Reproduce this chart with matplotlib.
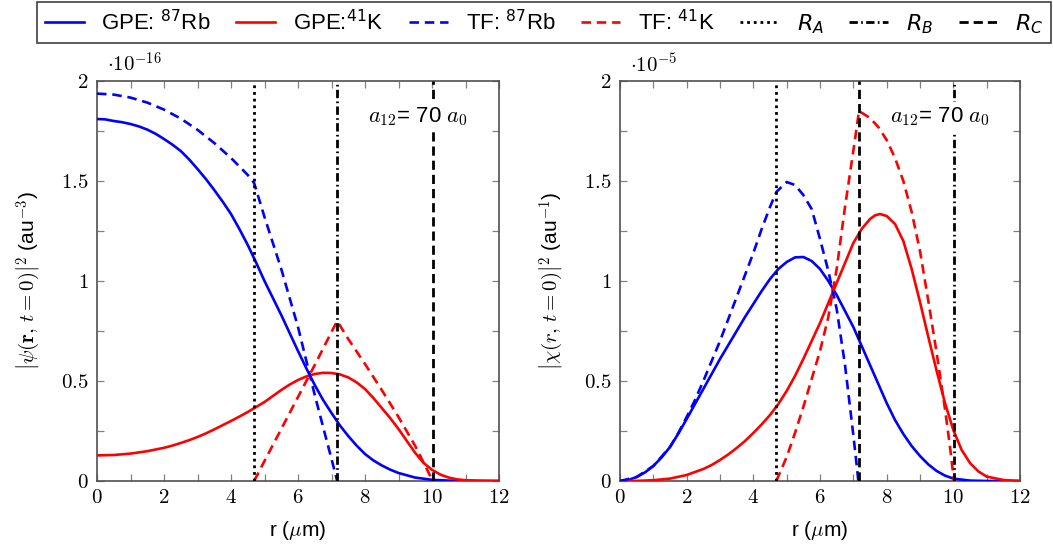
import matplotlib
matplotlib.use("Agg")
import matplotlib.pyplot as plt
from matplotlib.lines import Line2D
from matplotlib.ticker import FixedLocator, FuncFormatter

plt.rcParams['font.family'] = ['Liberation Sans', 'DejaVu Sans']
plt.rcParams['mathtext.fontset'] = 'cm'

# ---------------- density |psi(r, t=0)|^2  (units 1e-16 au^-3) ----------------
r_psi_rb_gpe = [0, 0.25, 0.5, 0.75, 1, 1.25, 1.5, 1.75, 2, 2.25, 2.5, 2.75, 3,
                3.25, 3.5, 3.75, 4, 4.25, 4.5, 4.75, 5, 5.25, 5.5, 5.75, 6, 6.25,
                6.5, 6.75, 7, 7.25, 7.5, 7.75, 8, 8.25, 8.5, 8.75, 9, 9.5, 10,
                10.5, 11, 12]
psi_rb_gpe = [1.81, 1.808, 1.80, 1.794, 1.785, 1.773, 1.757, 1.736, 1.71, 1.682,
              1.65, 1.608, 1.56, 1.51, 1.455, 1.397, 1.335, 1.26, 1.18, 1.092, 1.0,
              0.915, 0.83, 0.74, 0.65, 0.563, 0.48, 0.405, 0.34, 0.278, 0.225,
              0.177, 0.135, 0.103, 0.078, 0.057, 0.04, 0.017, 0.006, 0.002,
              0.0005, 0.0]

r_psi_k_gpe = [0, 0.5, 1, 1.5, 2, 2.25, 2.5, 2.75, 3, 3.25, 3.5, 3.75, 4, 4.25,
               4.5, 4.75, 5, 5.25, 5.5, 5.75, 6, 6.25, 6.5, 6.75, 7, 7.25, 7.5,
               7.75, 8, 8.25, 8.5, 8.75, 9, 9.25, 9.5, 9.75, 10, 10.25, 10.5,
               10.75, 11, 11.5, 12]
psi_k_gpe = [0.128, 0.13, 0.137, 0.149, 0.166, 0.177, 0.19, 0.204, 0.22, 0.238,
             0.258, 0.279, 0.30, 0.322, 0.345, 0.37, 0.395, 0.425, 0.455, 0.482,
             0.505, 0.523, 0.535, 0.541, 0.54, 0.533, 0.518, 0.493, 0.46, 0.415,
             0.365, 0.315, 0.26, 0.20, 0.14, 0.09, 0.056, 0.032, 0.017, 0.008,
             0.004, 0.001, 0.0]

r_psi_rb_tf = [0, 0.5, 1, 1.5, 2, 2.5, 3, 3.5, 4, 4.25, 4.5, 4.69, 5, 5.25, 5.5,
               5.75, 6, 6.25, 6.5, 6.75, 7, 7.17]
psi_rb_tf = [1.937, 1.932, 1.917, 1.892, 1.857, 1.812, 1.756, 1.69, 1.615, 1.573,
             1.53, 1.49, 1.32, 1.19, 1.06, 0.915, 0.77, 0.60, 0.43, 0.27, 0.11, 0.0]

r_psi_k_tf = [4.69, 5, 5.5, 6, 6.5, 7, 7.17, 7.5, 8, 8.5, 9, 9.5, 9.8, 10.02]
psi_k_tf = [0.0, 0.10, 0.26, 0.42, 0.58, 0.745, 0.80, 0.71, 0.585, 0.455, 0.32,
            0.175, 0.075, 0.0]

# ---------------- radial density |chi(r, t=0)|^2  (units 1e-5 au^-1) ----------------
r_chi_rb_gpe = [0, 0.25, 0.5, 0.75, 1, 1.25, 1.5, 1.75, 2, 2.25, 2.5, 2.75, 3,
                3.25, 3.5, 3.75, 4, 4.25, 4.5, 4.75, 5, 5.25, 5.5, 5.75, 6, 6.25,
                6.5, 6.75, 7, 7.25, 7.5, 7.75, 8, 8.25, 8.5, 8.75, 9, 9.25, 9.5,
                9.75, 10, 10.5, 11, 12]
chi_rb_gpe = [0.0, 0.005, 0.02, 0.043, 0.075, 0.118, 0.17, 0.237, 0.31, 0.385,
              0.46, 0.535, 0.61, 0.68, 0.75, 0.82, 0.885, 0.95, 1.01, 1.06, 1.095,
              1.118, 1.12, 1.10, 1.06, 1.0, 0.93, 0.85, 0.77, 0.675, 0.58, 0.485,
              0.39, 0.305, 0.235, 0.175, 0.125, 0.083, 0.05, 0.027, 0.012, 0.002,
              0.0, 0.0]

r_chi_k_gpe = [0, 0.5, 1, 1.5, 2, 2.5, 2.75, 3, 3.25, 3.5, 3.75, 4, 4.25, 4.5,
               4.75, 5, 5.25, 5.5, 5.75, 6, 6.25, 6.5, 6.75, 7, 7.25, 7.5, 7.65,
               7.8, 8, 8.25, 8.5, 8.75, 9, 9.25, 9.5, 9.75, 10, 10.25, 10.5,
               10.75, 11, 11.5, 12]
chi_k_gpe = [0.0, 0.0005, 0.004, 0.012, 0.03, 0.06, 0.08, 0.105, 0.133, 0.165,
             0.20, 0.24, 0.283, 0.33, 0.385, 0.45, 0.525, 0.61, 0.70, 0.79, 0.89,
             0.99, 1.09, 1.19, 1.26, 1.31, 1.328, 1.335, 1.325, 1.285, 1.20,
             1.06, 0.895, 0.72, 0.55, 0.39, 0.255, 0.155, 0.09, 0.048, 0.022,
             0.005, 0.0]

r_chi_rb_tf = [0, 0.5, 1, 1.5, 1.75, 2, 2.25, 2.5, 2.75, 3, 3.25, 3.5, 3.75, 4,
               4.25, 4.5, 4.69, 5, 5.25, 5.5, 5.75, 6, 6.25, 6.5, 6.75, 7, 7.1,
               7.15]
chi_rb_tf = [0.0, 0.02, 0.075, 0.17, 0.24, 0.32, 0.405, 0.50, 0.60, 0.70, 0.81,
             0.92, 1.03, 1.14, 1.26, 1.37, 1.445, 1.495, 1.48, 1.43, 1.36, 1.21,
             1.05, 0.86, 0.58, 0.23, 0.08, 0.0]

r_chi_k_tf = [4.69, 5, 5.25, 5.5, 5.75, 6, 6.25, 6.5, 6.75, 7, 7.17, 7.5, 7.75, 8,
              8.25, 8.5, 8.75, 9, 9.25, 9.5, 9.75, 9.9, 10.02]
chi_k_tf = [0.0, 0.12, 0.24, 0.37, 0.51, 0.65, 0.82, 1.06, 1.37, 1.65, 1.85, 1.815,
            1.77, 1.705, 1.615, 1.50, 1.345, 1.15, 0.90, 0.64, 0.36, 0.17, 0.0]

# characteristic radii (um)
R_A, R_B, R_C = 4.69, 7.17, 10.02

x_ticks = list(range(0, 13))
x_labels = [0, 2, 4, 6, 8, 10, 12]
y_ticks = [0, 0.25, 0.5, 0.75, 1.0, 1.25, 1.5, 1.75, 2.0]
y_labels = [0, 0.5, 1, 1.5, 2]

BLUE = '#0000ff'
RED = '#ff0000'
LW = 1.9
VLW = 2.0
DASH = (0, (3.6, 2.2))
DOT = (0, (1.0, 1.4))
VDASH = (0, (3.3, 1.8))
DASHDOT = (0, (3.0, 1.2, 0.6, 1.2))

fig = plt.figure(figsize=(10.53, 5.52), dpi=100)
ax1 = fig.add_axes([97 / 1053, 1 - 481 / 552, 402 / 1053, 400 / 552])
ax2 = fig.add_axes([620 / 1053, 1 - 481 / 552, 400 / 1053, 400 / 552])


def fmt_x(v, pos):
    return f'${v:g}$' if v in x_labels else ''


def fmt_y(v, pos):
    return f'${v:g}$' if any(abs(v - t) < 1e-9 for t in y_labels) else ''


def style_axes(ax, exponent):
    ax.set_xlim(0, 12)
    ax.set_ylim(0, 2)
    ax.xaxis.set_major_locator(FixedLocator(x_ticks))
    ax.yaxis.set_major_locator(FixedLocator(y_ticks))
    ax.xaxis.set_major_formatter(FuncFormatter(fmt_x))
    ax.yaxis.set_major_formatter(FuncFormatter(fmt_y))
    ax.tick_params(direction='in', length=5, width=0.9, color='#808080',
                   top=True, right=True, labelsize=15)
    ax.tick_params(axis='x', pad=5)
    ax.tick_params(axis='y', pad=6)
    for s in ax.spines.values():
        s.set_color('#505050')
        s.set_linewidth(1.2)
    ax.text(0.025, 1.012, r'$\cdot 10^{%d}$' % exponent, transform=ax.transAxes,
            ha='left', va='bottom', fontsize=15)
    ax.text(8.1, 1.82, r'$a_{12}$= 70 $a_0$', fontsize=16, ha='left', va='center',
            zorder=6, bbox=dict(facecolor='white', edgecolor='none', pad=2.5))
    ax.set_xlabel(r'r ($\mu$m)', fontsize=15)
    ax.xaxis.set_label_coords(0.5, -0.095)


def vline(ax, x, ls):
    ax.axvline(x, color='black', lw=VLW, ls=ls, dash_capstyle='butt', zorder=4)


# left panel
ax1.plot(r_psi_rb_gpe, psi_rb_gpe, color=BLUE, lw=LW, zorder=3)
ax1.plot(r_psi_k_gpe, psi_k_gpe, color=RED, lw=LW, zorder=3)
ax1.plot(r_psi_rb_tf, psi_rb_tf, color=BLUE, lw=LW, ls=DASH, zorder=3)
ax1.plot(r_psi_k_tf, psi_k_tf, color=RED, lw=LW, ls=DASH, zorder=3)
vline(ax1, R_A, DOT)
vline(ax1, R_B, DASHDOT)
vline(ax1, R_C, VDASH)
style_axes(ax1, -16)
ax1.set_ylabel(r'$\left|\psi\mathsf{(}\mathbf{r}\mathsf{,}\ t=\mathsf{0)}\right|^2$ (au$^{-3}$)',
               fontsize=15)
ax1.yaxis.set_label_coords(-0.135, 0.5)

# right panel
ax2.plot(r_chi_rb_gpe, chi_rb_gpe, color=BLUE, lw=LW, zorder=3)
ax2.plot(r_chi_k_gpe, chi_k_gpe, color=RED, lw=LW, zorder=3)
ax2.plot(r_chi_rb_tf, chi_rb_tf, color=BLUE, lw=LW, ls=DASH, zorder=3)
ax2.plot(r_chi_k_tf, chi_k_tf, color=RED, lw=LW, ls=DASH, zorder=3)
vline(ax2, R_A, DOT)
vline(ax2, R_B, VDASH)
vline(ax2, R_C, DASHDOT)
style_axes(ax2, -5)
ax2.set_ylabel(r'$\left|\chi\mathsf{(}r\mathsf{,}\ t=\mathsf{0)}\right|^2$ (au$^{-1}$)',
               fontsize=15)
ax2.yaxis.set_label_coords(-0.135, 0.5)

# shared legend across the top
handles = [
    Line2D([], [], color=BLUE, lw=LW),
    Line2D([], [], color=RED, lw=LW),
    Line2D([], [], color=BLUE, lw=LW, ls=DASH),
    Line2D([], [], color=RED, lw=LW, ls=DASH),
    Line2D([], [], color='black', lw=VLW, ls=DOT, dash_capstyle='butt'),
    Line2D([], [], color='black', lw=VLW, ls=DASHDOT, dash_capstyle='butt'),
    Line2D([], [], color='black', lw=VLW, ls=VDASH, dash_capstyle='butt'),
]
labels = ['GPE: $^{87}$Rb', 'GPE:$^{41}$K', 'TF: $^{87}$Rb', 'TF: $^{41}$K',
          '$R_A$', '$R_B$', '$R_C$']
leg = fig.legend(handles, labels, ncol=7, loc='upper left',
                 bbox_to_anchor=(37 / 1053, 1 - 2 / 552), fontsize=16,
                 handlelength=1.75, handletextpad=0.8, columnspacing=1.15,
                 borderpad=0.35, borderaxespad=0, frameon=True, fancybox=False,
                 edgecolor='#404040', framealpha=1)
leg.get_frame().set_linewidth(1.2)
for t in leg.get_texts():
    t.set_math_fontfamily('dejavusans')

fig.savefig('out.png', dpi=100)
